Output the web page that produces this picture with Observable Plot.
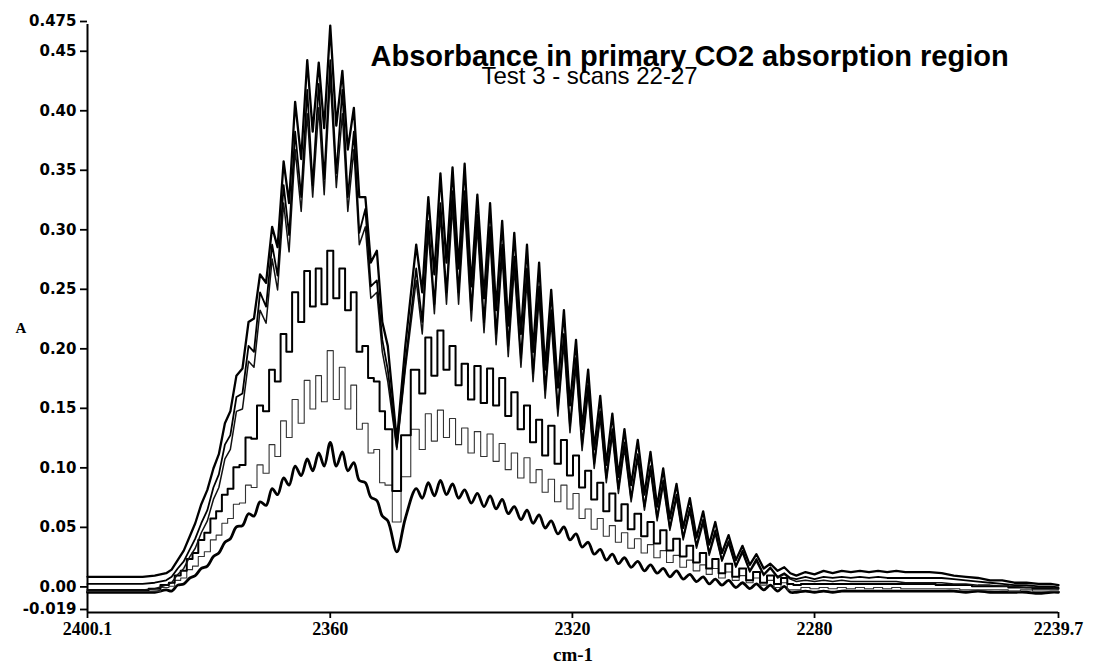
<!DOCTYPE html>
<html>
<head>
<meta charset="utf-8">
<script src="https://cdn.jsdelivr.net/npm/d3@7"></script>
<script src="https://cdn.jsdelivr.net/npm/@observablehq/plot@0.6"></script>
<style>
  html, body { margin: 0; padding: 0; background: #fff; }
  #chart svg { display: block; }
  #chart g[aria-label="y-axis tick label"] text { font-family: "DejaVu Sans", Verdana, sans-serif; font-weight: bold; font-size: 15px; }
  #chart g[aria-label="x-axis tick label"] text { font-family: "Liberation Serif", "Times New Roman", serif; font-weight: bold; font-size: 18px; }
</style>
</head>
<body>
<div id="chart"></div>
<script>
// Wavenumber grid (cm-1), shared by all scans: flat baseline, R branch, band gap, P branch, tail
const wavenumber = [
  2400.1, 2395, 2391, 2389,
  2387.1, 2386.2, 2385.2, 2384.2, 2383.2, 2382.3, 2381.3, 2380.3, 2379.3, 2378.4,
  2377.4, 2376.5, 2375.5, 2374.5, 2373.5, 2372.6, 2371.6, 2370.6, 2369.6, 2368.7,
  2367.7, 2366.8, 2365.8, 2364.8, 2363.8, 2362.9, 2361.9, 2361.0, 2360.0, 2359.0,
  2358.0, 2357.1, 2356.1, 2355.2, 2354.2, 2353.3, 2352.3, 2351.4, 2350.5,
  2349.0, 2347.6,
  2345.8, 2344.8, 2343.8, 2342.8, 2341.8, 2340.8, 2339.8, 2338.8, 2337.8, 2336.7,
  2335.7, 2334.6, 2333.6, 2332.6, 2331.6, 2330.6, 2329.6, 2328.5, 2327.5, 2326.5,
  2325.5, 2324.5, 2323.5, 2322.4, 2321.4, 2320.4, 2319.4, 2318.4, 2317.4, 2316.4,
  2315.4, 2314.4, 2313.4, 2312.4, 2311.4, 2310.3, 2309.2, 2308.1, 2307.1, 2306.0,
  2305.0, 2303.9, 2302.8, 2301.7, 2300.6, 2299.5, 2298.4, 2297.4, 2296.4, 2295.3,
  2294.2, 2293.0, 2291.9, 2290.7, 2289.6, 2288.4, 2287.3, 2286.1, 2285.0, 2284.0,
  2283.0, 2281.5, 2280.0, 2278.5, 2277.0, 2275.5, 2274.0, 2272.5, 2271.0, 2269.5,
  2268.0, 2266.5, 2265.0, 2263.0, 2261.0, 2259.0, 2257.0, 2255.0, 2253.0, 2251.0,
  2249.0, 2247.0, 2245.0, 2243.0, 2241.0, 2239.7
];

// Absorbance of each scan at the wavenumbers above
const scan27 = [
  0.011, 0.011, 0.011, 0.012,
  0.014, 0.017, 0.025, 0.033, 0.045, 0.056, 0.072, 0.084, 0.102, 0.114,
  0.140, 0.150, 0.180, 0.186, 0.225, 0.228, 0.265, 0.258, 0.305, 0.288,
  0.360, 0.325, 0.410, 0.362, 0.445, 0.385, 0.443, 0.388, 0.474, 0.390,
  0.436, 0.370, 0.405, 0.330, 0.330, 0.275, 0.285, 0.225, 0.205,
  0.125, 0.205,
  0.290, 0.250, 0.330, 0.265, 0.350, 0.275, 0.355, 0.270, 0.358, 0.255,
  0.332, 0.245, 0.325, 0.235, 0.310, 0.222, 0.300, 0.215, 0.290, 0.200,
  0.275, 0.185, 0.252, 0.170, 0.235, 0.155, 0.210, 0.135, 0.185, 0.118,
  0.163, 0.105, 0.148, 0.095, 0.135, 0.088, 0.126, 0.080, 0.116, 0.070,
  0.102, 0.060, 0.089, 0.052, 0.077, 0.044, 0.066, 0.038, 0.057, 0.031,
  0.046, 0.025, 0.037, 0.021, 0.030, 0.018, 0.022, 0.016, 0.019, 0.014,
  0.012, 0.015, 0.013, 0.016, 0.014, 0.016, 0.015, 0.016, 0.015, 0.016,
  0.015, 0.016, 0.015, 0.015, 0.015, 0.014, 0.012, 0.011, 0.010, 0.008,
  0.008, 0.006, 0.006, 0.005, 0.005, 0.004
];
const scan26 = [
  0.005, 0.005, 0.005, 0.006,
  0.008, 0.011, 0.018, 0.024, 0.034, 0.043, 0.056, 0.067, 0.086, 0.097,
  0.122, 0.130, 0.162, 0.165, 0.205, 0.200, 0.250, 0.238, 0.290, 0.264,
  0.340, 0.298, 0.385, 0.330, 0.420, 0.340, 0.425, 0.345, 0.445, 0.350,
  0.420, 0.330, 0.385, 0.300, 0.320, 0.255, 0.260, 0.210, 0.185,
  0.120, 0.190,
  0.270, 0.225, 0.310, 0.240, 0.325, 0.250, 0.335, 0.250, 0.335, 0.235,
  0.315, 0.225, 0.305, 0.215, 0.290, 0.205, 0.280, 0.195, 0.270, 0.182,
  0.255, 0.168, 0.235, 0.152, 0.215, 0.138, 0.195, 0.122, 0.172, 0.106,
  0.150, 0.094, 0.135, 0.085, 0.124, 0.077, 0.114, 0.070, 0.104, 0.061,
  0.092, 0.052, 0.080, 0.044, 0.069, 0.037, 0.059, 0.031, 0.050, 0.025,
  0.041, 0.020, 0.033, 0.016, 0.026, 0.013, 0.019, 0.011, 0.014, 0.010,
  0.009, 0.011, 0.009, 0.011, 0.010, 0.011, 0.010, 0.011, 0.010, 0.011,
  0.010, 0.010, 0.010, 0.010, 0.010, 0.010, 0.009, 0.008, 0.007, 0.006,
  0.005, 0.004, 0.004, 0.003, 0.003, 0.002
];
const scan25 = [
  0.000, 0.000, 0.000, 0.001,
  0.004, 0.006, 0.013, 0.018, 0.028, 0.035, 0.048, 0.058, 0.076, 0.086,
  0.110, 0.118, 0.150, 0.152, 0.192, 0.187, 0.235, 0.224, 0.278, 0.252,
  0.325, 0.284, 0.370, 0.318, 0.400, 0.330, 0.405, 0.332, 0.430, 0.338,
  0.400, 0.318, 0.370, 0.290, 0.305, 0.245, 0.250, 0.200, 0.175,
  0.118, 0.185,
  0.260, 0.215, 0.300, 0.232, 0.315, 0.240, 0.322, 0.240, 0.322, 0.226,
  0.305, 0.216, 0.295, 0.206, 0.280, 0.196, 0.270, 0.187, 0.260, 0.175,
  0.245, 0.161, 0.226, 0.146, 0.207, 0.132, 0.188, 0.117, 0.166, 0.102,
  0.145, 0.090, 0.130, 0.081, 0.119, 0.074, 0.110, 0.067, 0.100, 0.058,
  0.088, 0.050, 0.077, 0.042, 0.066, 0.035, 0.056, 0.029, 0.047, 0.024,
  0.039, 0.019, 0.031, 0.015, 0.024, 0.012, 0.018, 0.010, 0.013, 0.009,
  0.007, 0.008, 0.007, 0.008, 0.007, 0.008, 0.007, 0.007, 0.007, 0.007,
  0.007, 0.007, 0.006, 0.006, 0.006, 0.006, 0.005, 0.005, 0.004, 0.004,
  0.003, 0.003, 0.002, 0.002, 0.002, 0.001
];
const scan24 = [
  0.000, 0.000, 0.000, 0.001,
  0.004, 0.006, 0.012, 0.016, 0.026, 0.031, 0.042, 0.048, 0.060, 0.066,
  0.080, 0.085, 0.103, 0.105, 0.128, 0.127, 0.155, 0.150, 0.185, 0.175,
  0.215, 0.200, 0.250, 0.225, 0.268, 0.238, 0.270, 0.240, 0.285, 0.245,
  0.270, 0.235, 0.250, 0.200, 0.205, 0.178, 0.175, 0.150, 0.135,
  0.083, 0.130,
  0.185, 0.165, 0.212, 0.180, 0.218, 0.185, 0.205, 0.172, 0.190, 0.160,
  0.188, 0.157, 0.186, 0.155, 0.178, 0.146, 0.166, 0.135, 0.155, 0.124,
  0.143, 0.113, 0.138, 0.106, 0.126, 0.096, 0.113, 0.086, 0.100, 0.076,
  0.090, 0.066, 0.081, 0.058, 0.072, 0.051, 0.064, 0.045, 0.057, 0.039,
  0.050, 0.033, 0.043, 0.028, 0.037, 0.023, 0.031, 0.018, 0.026, 0.014,
  0.022, 0.011, 0.018, 0.008, 0.015, 0.006, 0.012, 0.005, 0.010, 0.005,
  0.004, 0.005, 0.005, 0.005, 0.005, 0.005, 0.005, 0.005, 0.005, 0.005,
  0.005, 0.005, 0.005, 0.005, 0.005, 0.004, 0.004, 0.004, 0.003, 0.003,
  0.003, 0.002, 0.002, 0.001, 0.001, 0.001
];
const scan23 = [
  -0.001, -0.001, -0.001, -0.001,
  0.002, 0.003, 0.008, 0.010, 0.017, 0.020, 0.028, 0.032, 0.042, 0.046,
  0.056, 0.060, 0.072, 0.073, 0.088, 0.086, 0.105, 0.098, 0.122, 0.112,
  0.142, 0.128, 0.160, 0.140, 0.176, 0.152, 0.180, 0.158, 0.201, 0.160,
  0.187, 0.152, 0.172, 0.135, 0.140, 0.115, 0.118, 0.090, 0.088,
  0.057, 0.095,
  0.135, 0.118, 0.148, 0.125, 0.151, 0.128, 0.144, 0.122, 0.136, 0.115,
  0.133, 0.112, 0.131, 0.108, 0.123, 0.101, 0.115, 0.094, 0.111, 0.090,
  0.101, 0.082, 0.093, 0.074, 0.088, 0.068, 0.081, 0.060, 0.068, 0.051,
  0.060, 0.045, 0.054, 0.040, 0.048, 0.035, 0.043, 0.031, 0.038, 0.027,
  0.033, 0.023, 0.029, 0.019, 0.025, 0.016, 0.021, 0.013, 0.018, 0.010,
  0.015, 0.008, 0.012, 0.006, 0.010, 0.004, 0.008, 0.002, 0.006, 0.000,
  0.000, 0.002, 0.001, 0.002, 0.001, 0.002, 0.001, 0.002, 0.001, 0.002,
  0.001, 0.002, 0.001, 0.001, 0.001, 0.001, 0.001, 0.000, 0.000, 0.000,
  0.000, -0.001, 0.000, -0.001, -0.001, -0.001
];
const scan22 = [
  -0.002, -0.002, -0.002, -0.002,
  0.000, -0.001, 0.004, 0.005, 0.010, 0.012, 0.018, 0.020, 0.028, 0.031,
  0.040, 0.043, 0.053, 0.054, 0.064, 0.062, 0.074, 0.071, 0.085, 0.080,
  0.094, 0.088, 0.104, 0.096, 0.110, 0.100, 0.115, 0.104, 0.124, 0.104,
  0.116, 0.100, 0.107, 0.092, 0.090, 0.078, 0.075, 0.062, 0.058,
  0.032, 0.060,
  0.085, 0.077, 0.090, 0.079, 0.092, 0.080, 0.089, 0.077, 0.084, 0.073,
  0.081, 0.070, 0.079, 0.068, 0.076, 0.064, 0.070, 0.059, 0.067, 0.056,
  0.063, 0.052, 0.058, 0.047, 0.053, 0.042, 0.047, 0.036, 0.040, 0.030,
  0.034, 0.025, 0.030, 0.022, 0.027, 0.019, 0.024, 0.016, 0.021, 0.014,
  0.018, 0.011, 0.016, 0.009, 0.013, 0.007, 0.011, 0.005, 0.009, 0.004,
  0.008, 0.002, 0.006, 0.001, 0.005, 0.000, 0.004, -0.001, 0.003, -0.002,
  -0.002, -0.001, -0.002, -0.001, -0.002, -0.001, -0.001, -0.001, -0.001, -0.001,
  -0.001, -0.001, -0.001, -0.001, -0.001, -0.001, -0.001, -0.002, -0.001, -0.002,
  -0.002, -0.002, -0.002, -0.003, -0.002, -0.002
];

const scanNames = ["22", "23", "24", "25", "26", "27"];
const scanValues = [scan22, scan23, scan24, scan25, scan26, scan27];
const scanStrokeWidths = [2.8, 1.1, 2.0, 1.5, 1.8, 2.3];
const scanColors = ["#000", "#333", "#000", "#111", "#000", "#000"];
const scanCurves = ["catmull-rom", "step", "step", "linear", "linear", "linear"];

const xTicks = [2400.1, 2360, 2320, 2280, 2239.7];
const xTickLabels = ["2400.1", "2360", "2320", "2280", "2239.7"];
const yTicks = [-0.019, 0, 0.05, 0.10, 0.15, 0.20, 0.25, 0.30, 0.35, 0.40, 0.45, 0.475];
const yTickLabels = ["-0.019", "0.00", "0.05", "0.10", "0.15", "0.20", "0.25", "0.30", "0.35", "0.40", "0.45", "0.475"];

const titleText = "Absorbance in primary CO2 absorption region";
const subtitleText = "Test 3 - scans 22-27";
const xLabel = "cm-1";
const yLabel = "A";

// Long table: one row per (scan, wavenumber)
const rows = scanNames.flatMap((scan, s) =>
  wavenumber.map((w, i) => ({scan, wavenumber: w, absorbance: scanValues[s][i]}))
);

const xLabelOf = new Map(xTicks.map((t, i) => [t, xTickLabels[i]]));
const yLabelOf = new Map(yTicks.map((t, i) => [t, yTickLabels[i]]));

const lines = scanNames.map((scan, s) =>
  Plot.line(rows.filter(d => d.scan === scan), {
    x: "wavenumber",
    y: "absorbance",
    curve: scanCurves[s],
    stroke: scanColors[s],
    strokeWidth: scanStrokeWidths[s],
    strokeLinejoin: "round"
  })
);

const chart = Plot.plot({
  width: 1094,
  height: 671,
  marginLeft: 87,
  marginRight: 36,
  marginTop: 24,
  marginBottom: 59,
  style: {background: "#fff", color: "#000"},
  x: {domain: [2400.1, 2239.7]},
  y: {domain: [-0.019, 0.475]},
  marks: [
    Plot.axisX({ticks: xTicks, tickFormat: d => xLabelOf.get(d), tickSize: 6, tickPadding: 4, label: null, strokeWidth: 1.8}),
    Plot.axisY({ticks: yTicks, tickFormat: d => yLabelOf.get(d), tickSize: 7, tickPadding: 4, dy: -3, label: null, strokeWidth: 1.8}),
    Plot.ruleX([2400.1], {stroke: "#000", strokeWidth: 2}),
    Plot.ruleY([-0.019], {stroke: "#000", strokeWidth: 2}),
    ...lines,
    Plot.text([titleText], {
      text: d => d, frameAnchor: "top-left", dx: 283, dy: 21, textAnchor: "start", ariaLabel: "title",
      fontSize: 29, fontWeight: "bold", fontFamily: "'Liberation Sans', Arial, sans-serif", fill: "#000"
    }),
    Plot.text([subtitleText], {
      text: d => d, frameAnchor: "top-left", dx: 394, dy: 42, textAnchor: "start", ariaLabel: "subtitle",
      fontSize: 24, fontFamily: "'Liberation Sans', Arial, sans-serif", fill: "#000"
    }),
    Plot.text([xLabel], {
      text: d => d, frameAnchor: "bottom", dy: 48,
      fontSize: 19, fontWeight: "bold", fontFamily: "'Liberation Serif', 'Times New Roman', serif", fill: "#000"
    }),
    Plot.text([yLabel], {
      text: d => d, frameAnchor: "left", dx: -72, dy: 10,
      fontSize: 15, fontWeight: "bold", fontFamily: "'Liberation Serif', 'Times New Roman', serif", fill: "#000"
    })
  ]
});

// Pin the heading widths to the drawn layout
d3.select(chart).select('g[aria-label="title"] text')
  .attr("textLength", 633).attr("lengthAdjust", "spacingAndGlyphs");
d3.select(chart).select('g[aria-label="subtitle"] text')
  .attr("textLength", 222).attr("lengthAdjust", "spacingAndGlyphs");

document.getElementById("chart").append(chart);
</script>
</body>
</html>
